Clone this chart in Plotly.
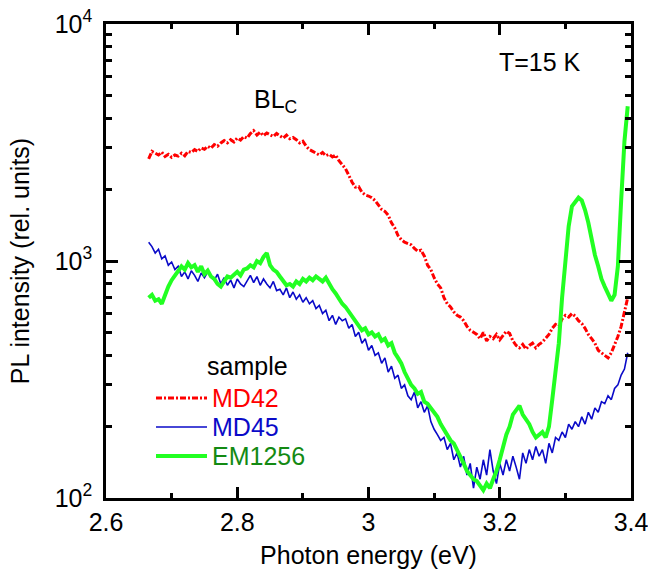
import plotly.graph_objects as go

# Shared photon-energy grid (eV)
energy_ev = [
    2.665, 2.670, 2.675, 2.680, 2.685, 2.690, 2.695, 2.700, 2.705, 2.710,
    2.715, 2.720, 2.725, 2.730, 2.735, 2.740, 2.745, 2.750, 2.755, 2.760,
    2.765, 2.770, 2.775, 2.780, 2.785, 2.790, 2.795, 2.800, 2.805, 2.810,
    2.815, 2.820, 2.825, 2.830, 2.835, 2.840, 2.845, 2.850, 2.855, 2.860,
    2.865, 2.870, 2.875, 2.880, 2.885, 2.890, 2.895, 2.900, 2.905, 2.910,
    2.915, 2.920, 2.925, 2.930, 2.935, 2.940, 2.945, 2.950, 2.955, 2.960,
    2.965, 2.970, 2.975, 2.980, 2.985, 2.990, 2.995, 3.000, 3.005, 3.010,
    3.015, 3.020, 3.025, 3.030, 3.035, 3.040, 3.045, 3.050, 3.055, 3.060,
    3.065, 3.070, 3.075, 3.080, 3.085, 3.090, 3.095, 3.100, 3.105, 3.110,
    3.115, 3.120, 3.125, 3.130, 3.135, 3.140, 3.145, 3.150, 3.155, 3.160,
    3.165, 3.170, 3.175, 3.180, 3.185, 3.190, 3.195, 3.200, 3.205, 3.210,
    3.215, 3.220, 3.225, 3.230, 3.235, 3.240, 3.245, 3.250, 3.255, 3.260,
    3.265, 3.270, 3.275, 3.280, 3.285, 3.290, 3.295, 3.300, 3.305, 3.310,
    3.315, 3.320, 3.325, 3.330, 3.335, 3.340, 3.345, 3.350, 3.355, 3.360,
    3.365, 3.370, 3.375, 3.380, 3.385, 3.390, 3.395,
]

md42 = [
    2700, 2900, 2850, 2800, 2880, 2760, 2820, 2740, 2800, 2770,
    2850, 2780, 2900, 2870, 2950, 2900, 3000, 2960, 3050, 2990,
    3100, 3050, 3150, 3220, 3150, 3250, 3180, 3300, 3240, 3350,
    3300, 3450, 3550, 3400, 3500, 3380, 3470, 3420, 3350, 3450,
    3380, 3300, 3400, 3280, 3320, 3250, 3150, 3200, 3050, 2950,
    2900, 2850, 2800, 2870, 2780, 2820, 2750, 2800, 2650, 2550,
    2450, 2300, 2150, 2050, 2060, 1950, 1900, 1880, 1850, 1800,
    1720, 1650, 1620, 1560, 1450, 1380, 1280, 1230, 1200, 1180,
    1170, 1130, 1100, 1110, 1050, 960, 920, 850, 800, 770,
    700, 660, 640, 610, 590, 580, 560, 530, 510, 500,
    490, 470, 500, 460, 480, 470, 490, 465, 485, 505,
    495, 460, 440, 430, 445, 425, 440, 450, 430, 445,
    455, 470, 490, 520, 540, 530, 570, 590, 580, 600,
    585, 560, 545, 520, 490, 470, 450, 420, 410, 400,
    390, 410, 440, 480, 530, 610, 700,
]

md45 = [
    1200, 1150, 1080, 1120, 1020, 1050, 960, 990, 920, 950,
    860, 900, 840, 910, 870, 820, 890, 850, 900, 860,
    830, 880, 800, 850, 790, 830, 770, 840, 800, 780,
    830, 870, 810, 860, 790, 840, 800, 770, 820, 750,
    760, 720, 770, 700, 740, 690, 720, 670, 700, 660,
    680, 630, 650, 600, 620, 560, 590, 540, 580, 560,
    570, 520, 540, 480, 500, 450, 470, 420, 440, 400,
    410, 370, 390, 340, 360, 320, 330, 290, 300, 270,
    260, 280, 240, 255, 230, 245, 210, 195, 185, 175,
    180, 160, 170, 145, 155, 135, 150, 125, 140, 110,
    135, 120, 145, 125, 160, 130, 115, 140, 125, 145,
    130, 150, 135, 120, 155, 140, 160, 145, 165, 150,
    160, 140, 170, 155, 180, 175, 190, 180, 205, 195,
    210, 200, 220, 205, 230, 215, 240, 230, 255, 250,
    270, 260, 290, 300, 330, 350, 410,
]

em1256 = [
    700, 720, 680, 690, 660, 720, 780, 830, 870, 900,
    950, 920, 980, 940, 960, 900, 950, 880, 910, 860,
    840, 800, 780, 820, 860, 850, 880, 900, 870, 920,
    930, 960, 940, 1000, 980, 1040, 1080, 960, 920, 900,
    860, 820, 790, 800, 780, 820, 800, 840, 820, 850,
    830, 860, 840, 820, 850, 800, 760, 730, 690, 660,
    640, 610, 590, 560, 530, 510, 520, 490, 500, 480,
    490, 460, 470, 440, 450, 410, 390, 370, 340, 320,
    300, 290, 275, 280, 255, 250, 240, 230, 220, 205,
    195, 185, 175, 170, 160, 150, 140, 130, 125, 120,
    118, 112, 108, 115, 110, 120, 130, 145, 165, 185,
    200, 225, 235, 245, 225, 215, 205, 190, 180, 185,
    190, 180, 200, 260, 330, 450, 700, 980, 1400, 1700,
    1780, 1850, 1800, 1640, 1450, 1230, 1060, 950, 840, 780,
    730, 680, 720, 950, 1800, 3200, 4500,
]

series_names = ["MD42", "MD45", "EM1256"]
line_colors = ["#ff0000", "#0a0ac8", "#22ff22"]
text_colors = ["#ff0000", "#0a0ac8", "#138a13"]
line_widths = [3, 1.6, 4]
line_dashes = ["6px,2px,2px,2px", "solid", "solid"]
series_values = [md42, md45, em1256]

y_tickvals = [100, 1000, 10000]
y_ticktext = ["10<sup>2</sup>", "10<sup>3</sup>", "10<sup>4</sup>"]
y_minor = [200, 300, 400, 500, 600, 700, 800, 900,
           2000, 3000, 4000, 5000, 6000, 7000, 8000, 9000]

FONT = "Arial, Liberation Sans, sans-serif"
FS = 25

fig = go.Figure()
for name, vals, col, w, d in zip(series_names, series_values, line_colors, line_widths, line_dashes):
    fig.add_trace(go.Scatter(x=energy_ev, y=vals, mode="lines", name=name,
                             line=dict(color=col, width=w, dash=d), showlegend=False))

# plot-area geometry in pixels: left 106, right 631, top 24, bottom 498
L, R, T, B = 106, 631, 24, 498
def px(xp):
    return (xp - L) / (R - L)
def py(yp):
    return (B - yp) / (B - T)

shapes = []
annotations = []
# manual legend
annotations.append(dict(text="sample", x=px(247), y=py(366), xref="paper", yref="paper",
                        xanchor="center", yanchor="middle", showarrow=False,
                        font=dict(size=FS, color="black", family=FONT)))
legend_y = [398, 427, 456]
for name, lc, tc, w, d, ly in zip(series_names, line_colors, text_colors, line_widths, line_dashes, legend_y):
    shapes.append(dict(type="line", xref="paper", yref="paper", x0=px(156), x1=px(207),
                       y0=py(ly), y1=py(ly), line=dict(color=lc, width=w, dash=d)))
    annotations.append(dict(text=name, x=px(210), y=py(ly), xref="paper", yref="paper",
                            xanchor="left", yanchor="middle", showarrow=False,
                            font=dict(size=FS, color=tc, family=FONT)))

annotations.append(dict(text="T=15 K", x=px(540), y=py(62), xref="paper", yref="paper",
                        xanchor="center", yanchor="middle", showarrow=False,
                        font=dict(size=FS, color="black", family=FONT)))
annotations.append(dict(text="BL<sub>C</sub>", x=px(275), y=py(101), xref="paper", yref="paper",
                        xanchor="center", yanchor="middle", showarrow=False,
                        font=dict(size=FS, color="black", family=FONT)))

fig.update_layout(
    width=648, height=579,
    margin=dict(l=L, r=648 - R, t=T, b=579 - B, autoexpand=False),
    paper_bgcolor="white", plot_bgcolor="white",
    font=dict(family=FONT, size=FS, color="black"),
    shapes=shapes, annotations=annotations,
    showlegend=False,
)
fig.update_xaxes(
    range=[2.6, 3.4], dtick=0.2, tick0=2.6, automargin=False, ticklabeloverflow="allow",
    showgrid=False, zeroline=False,
    showline=True, linecolor="black", linewidth=2.5, mirror="ticks",
    ticks="inside", ticklen=11, tickwidth=2.5, tickcolor="black",
    minor=dict(dtick=0.1, ticks="inside", ticklen=5, tickwidth=2.5, tickcolor="black", showgrid=False),
    tickfont=dict(size=FS, family=FONT),
    title=dict(text="Photon energy (eV)", font=dict(size=FS, family=FONT), standoff=12),
)
fig.update_yaxes(
    type="log", range=[2, 4], tickmode="array", tickvals=y_tickvals, ticktext=y_ticktext,
    automargin=False, ticklabelstandoff=6, ticklabeloverflow="allow",
    showgrid=False, zeroline=False,
    showline=True, linecolor="black", linewidth=2.5, mirror="ticks",
    ticks="inside", ticklen=12, tickwidth=2.5, tickcolor="black",
    minor=dict(tickmode="array", tickvals=y_minor, ticks="inside", ticklen=6, tickwidth=2.5,
               tickcolor="black", showgrid=False),
    tickfont=dict(size=FS, family=FONT),
    title=dict(text="PL intensity (rel. units)", font=dict(size=FS, family=FONT), standoff=18),
)

fig.write_html("out.html")
